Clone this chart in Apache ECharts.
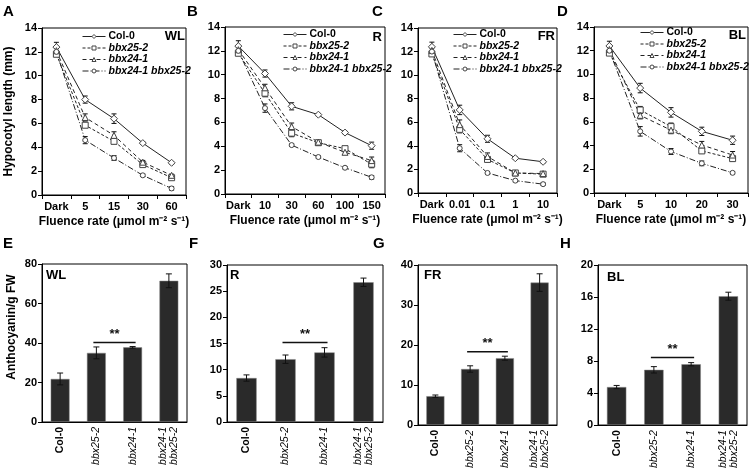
<!DOCTYPE html>
<html>
<head>
<meta charset="utf-8">
<script src="https://cdn.jsdelivr.net/npm/echarts@6/dist/echarts.min.js"></script>
<style>
  html, body { margin: 0; padding: 0; background: #fff; }
  #chart { width: 751px; height: 471px; }
</style>
</head>
<body>
<div id="chart"></div>
<script>
const genotypes = ['Col-0', 'bbx25-2', 'bbx24-1', 'bbx24-1 bbx25-2'];

// hypocotyl length (mm), one array per genotype, panel A-D
const catsWL = ['Dark', '5', '15', '30', '60'];
const wlCol0 = [12.4, 8.0, 6.4, 4.35, 2.7];
const wlBbx25 = [11.8, 5.85, 4.5, 2.55, 1.45];
const wlBbx24 = [12.1, 6.5, 5.0, 2.75, 1.65];
const wlDouble = [12.0, 4.6, 3.1, 1.65, 0.55];
const wlCol0Err = [0.4, 0.3, 0.4, 0.1, 0.1];
const wlBbx25Err = [0.2, 0.2, 0.2, 0.15, 0.15];
const wlBbx24Err = [0.3, 0.3, 0.3, 0.15, 0.1];
const wlDoubleErr = [0.3, 0.3, 0.2, 0.1, 0.15];

const catsR = ['Dark', '10', '30', '60', '100', '150'];
const rCol0 = [12.4, 10.1, 7.35, 6.65, 5.15, 4.05];
const rBbx25 = [11.8, 8.45, 5.1, 4.3, 3.8, 2.5];
const rBbx24 = [12.1, 8.9, 5.65, 4.35, 3.5, 2.8];
const rDouble = [12.0, 7.2, 4.1, 3.1, 2.2, 1.4];
const rCol0Err = [0.45, 0.3, 0.3, 0.1, 0.1, 0.3];
const rBbx25Err = [0.2, 0.3, 0.3, 0.15, 0.15, 0.3];
const rBbx24Err = [0.3, 0.3, 0.3, 0.15, 0.2, 0.3];
const rDoubleErr = [0.3, 0.35, 0.1, 0.1, 0.1, 0.15];

const catsFR = ['Dark', '0.01', '0.1', '1', '10'];
const frCol0 = [12.4, 7.05, 4.6, 2.95, 2.65];
const frBbx25 = [11.8, 5.4, 2.85, 1.7, 1.6];
const frBbx24 = [12.1, 5.8, 3.1, 1.7, 1.65];
const frDouble = [12.0, 3.8, 1.7, 1.05, 0.75];
const frCol0Err = [0.4, 0.4, 0.3, 0.1, 0.1];
const frBbx25Err = [0.2, 0.3, 0.2, 0.1, 0.15];
const frBbx24Err = [0.3, 0.4, 0.3, 0.15, 0.15];
const frDoubleErr = [0.3, 0.3, 0.1, 0.1, 0.1];

const catsBL = ['Dark', '5', '10', '20', '30'];
const blCol0 = [12.4, 8.85, 6.8, 5.2, 4.45];
const blBbx25 = [11.8, 7.0, 5.6, 3.55, 2.9];
const blBbx24 = [12.1, 6.55, 5.3, 4.05, 3.2];
const blDouble = [12.0, 5.2, 3.5, 2.5, 1.7];
const blCol0Err = [0.4, 0.4, 0.4, 0.35, 0.35];
const blBbx25Err = [0.2, 0.3, 0.3, 0.2, 0.2];
const blBbx24Err = [0.3, 0.3, 0.3, 0.3, 0.3];
const blDoubleErr = [0.3, 0.4, 0.25, 0.2, 0.1];

// anthocyanin / g FW, panels E-H
const anthoWL = [21.8, 35.0, 37.8, 71.5];
const anthoWLErr = [3.0, 3.0, 0.4, 3.5];
const anthoR = [8.4, 12.0, 13.3, 26.7];
const anthoRErr = [0.6, 0.8, 0.9, 0.8];
const anthoFR = [7.2, 14.0, 16.7, 35.6];
const anthoFRErr = [0.3, 0.8, 0.5, 2.2];
const anthoBL = [4.75, 6.9, 7.6, 16.1];
const anthoBLErr = [0.2, 0.4, 0.2, 0.5];
// height of the ** bracket between bbx25-2 and bbx24-1
const sigLevels = [40.2, 15.2, 18.3, 8.45];

const FONT = '"Liberation Sans", Arial, sans-serif';

const topPanels = [
  { cats: catsWL, vals: [wlCol0, wlBbx25, wlBbx24, wlDouble], errs: [wlCol0Err, wlBbx25Err, wlBbx24Err, wlDoubleErr],
    grid: { left: 42, top: 28, width: 144, height: 167 }, legend: { left: 82, top: 31 } },
  { cats: catsR, vals: [rCol0, rBbx25, rBbx24, rDouble], errs: [rCol0Err, rBbx25Err, rBbx24Err, rDoubleErr],
    grid: { left: 225, top: 27, width: 160, height: 167 }, legend: { left: 283, top: 29 } },
  { cats: catsFR, vals: [frCol0, frBbx25, frBbx24, frDouble], errs: [frCol0Err, frBbx25Err, frBbx24Err, frDoubleErr],
    grid: { left: 418, top: 28, width: 139, height: 165 }, legend: { left: 453, top: 29 } },
  { cats: catsBL, vals: [blCol0, blBbx25, blBbx24, blDouble], errs: [blCol0Err, blBbx25Err, blBbx24Err, blDoubleErr],
    grid: { left: 594, top: 27, width: 154, height: 166 }, legend: { left: 640, top: 27 } }
];

const barPanels = [
  { vals: anthoWL, errs: anthoWLErr, max: 80, interval: 20, grid: { left: 42, top: 264, width: 145, height: 158 } },
  { vals: anthoR, errs: anthoRErr, max: 30, interval: 5, grid: { left: 227, top: 265, width: 156, height: 157 } },
  { vals: anthoFR, errs: anthoFRErr, max: 40, interval: 10, grid: { left: 418, top: 265, width: 139, height: 160 } },
  { vals: anthoBL, errs: anthoBLErr, max: 20, interval: 4, grid: { left: 598, top: 265, width: 149, height: 163 } }
];

const symbols = ['diamond', 'rect', 'triangle', 'circle'];
const symbolSizes = [7, 6, 6, 5];
const dashes = ['solid', [3, 2], [4, 3], [6, 2, 1, 2]];

function errRender(capW) {
  return function (params, api) {
    const x = api.value(0), v = api.value(1), e = api.value(2);
    const hi = api.coord([x, v + e]);
    const lo = api.coord([x, v - e]);
    const cx = hi[0];
    const style = { stroke: '#111', lineWidth: 1 };
    return {
      type: 'group',
      children: [
        { type: 'line', shape: { x1: cx, y1: hi[1], x2: cx, y2: lo[1] }, style },
        { type: 'line', shape: { x1: cx - capW, y1: hi[1], x2: cx + capW, y2: hi[1] }, style },
        { type: 'line', shape: { x1: cx - capW, y1: lo[1], x2: cx + capW, y2: lo[1] }, style }
      ]
    };
  };
}

function sigRender(params, api) {
  const a = api.coord([api.value(0), api.value(2)]);
  const b = api.coord([api.value(1), api.value(2)]);
  return {
    type: 'group',
    children: [
      { type: 'line', shape: { x1: a[0] - 3, y1: a[1], x2: b[0] + 3, y2: b[1] }, style: { stroke: '#111', lineWidth: 1.5 } },
      { type: 'text', x: (a[0] + b[0]) / 2, y: a[1] - 2,
        style: { text: '**', font: 'bold 13px ' + FONT, fill: '#111', align: 'center', verticalAlign: 'bottom' } }
    ]
  };
}

const grids = [], xAxes = [], yAxes = [], series = [], legends = [];
const axisLineStyle = { lineStyle: { color: '#000', width: 1 } };
const tickLabel = { fontSize: 11, fontWeight: 'bold', color: '#000', fontFamily: FONT };

topPanels.forEach((p, gi) => {
  grids.push(Object.assign({ show: true, borderColor: '#000', borderWidth: 1 }, p.grid));
  xAxes.push({
    type: 'category', gridIndex: gi, data: p.cats, boundaryGap: true,
    axisLine: axisLineStyle, axisTick: { show: true, interval: 0, length: 4, lineStyle: { color: '#000' } },
    axisLabel: Object.assign({ margin: 6, interval: 0 }, tickLabel),
    name: 'Fluence rate (\u03bcmol m\u207b\u00b2 s\u207b\u00b9)', nameLocation: 'middle', nameGap: 21,
    nameTextStyle: { fontSize: 12, fontWeight: 'bold', color: '#000', fontFamily: FONT }
  });
  yAxes.push({
    type: 'value', gridIndex: gi, min: 0, max: 14, interval: 2,
    axisLine: Object.assign({ show: true }, axisLineStyle),
    axisTick: { show: true, length: 4, lineStyle: { color: '#000' } },
    splitLine: { show: false },
    axisLabel: Object.assign({ margin: 5 }, tickLabel),
    name: gi === 0 ? 'Hypocotyl length (mm)' : '', nameLocation: 'middle', nameGap: 27,
    nameTextStyle: { fontSize: 12, fontWeight: 'bold', color: '#000', fontFamily: FONT }
  });
  p.vals.forEach((vals, k) => {
    series.push({
      type: 'line', name: genotypes[k], xAxisIndex: gi, yAxisIndex: gi, data: vals,
      symbol: symbols[k], symbolSize: symbolSizes[k], showAllSymbol: true, z: 3,
      lineStyle: { color: '#222', width: 1, type: dashes[k] },
      itemStyle: { color: '#fff', borderColor: '#444', borderWidth: 1 },
      emphasis: { disabled: true }
    });
    series.push({
      type: 'custom', name: 'err' + gi + '_' + k, xAxisIndex: gi, yAxisIndex: gi, z: 2,
      renderItem: errRender(2.5), data: vals.map((v, i) => [i, v, p.errs[k][i]]),
      encode: { x: 0, y: 1 }, silent: true
    });
  });
  legends.push({
    data: genotypes, orient: 'vertical', left: p.legend.left, top: p.legend.top, padding: 0,
    itemWidth: 23, itemHeight: 5, itemGap: 0.5, selectedMode: false,
    lineStyle: { width: 1 }, itemStyle: { borderWidth: 1 },
    textStyle: { fontSize: 10.5, fontWeight: 'bold', color: '#000', fontFamily: FONT, padding: [0, 0, 0, -2],
      rich: { n: { fontSize: 10.5, fontWeight: 'bold', fontFamily: FONT, lineHeight: 11 },
              i: { fontSize: 10.5, fontWeight: 'bold', fontStyle: 'italic', fontFamily: FONT, lineHeight: 11 } } },
    formatter: name => name === 'Col-0' ? '{n|' + name + '}' : '{i|' + name + '}'
  });
});

barPanels.forEach((p, j) => {
  const gi = j + 4;
  grids.push(Object.assign({ show: true, borderColor: '#000', borderWidth: 1 }, p.grid));
  xAxes.push({
    type: 'category', gridIndex: gi, data: genotypes,
    axisLine: axisLineStyle, axisTick: { show: false },
    axisLabel: {
      rotate: 90, margin: 5, interval: 0, fontFamily: FONT,
      formatter: v => v === 'Col-0' ? '{n|Col-0}' : v.split(' ').map(s => '{i|' + s + '}').join('\n'),
      rich: { n: { fontSize: 10.5, fontWeight: 'bold', color: '#000', fontFamily: FONT, lineHeight: 11 },
              i: { fontSize: 10.5, fontStyle: 'italic', color: '#000', fontFamily: FONT, lineHeight: 11 } }
    }
  });
  yAxes.push({
    type: 'value', gridIndex: gi, min: 0, max: p.max, interval: p.interval,
    axisLine: Object.assign({ show: true }, axisLineStyle),
    axisTick: { show: true, length: 4, lineStyle: { color: '#000' } },
    splitLine: { show: false },
    axisLabel: Object.assign({ margin: 5 }, tickLabel)
  });
  series.push({
    type: 'bar', name: 'bar' + j, xAxisIndex: gi, yAxisIndex: gi, data: p.vals, barWidth: '52%',
    itemStyle: { color: '#2a2a2a', borderColor: '#888', borderWidth: 0.5 }, emphasis: { disabled: true }
  });
  series.push({
    type: 'custom', name: 'barErr' + j, xAxisIndex: gi, yAxisIndex: gi, z: 5,
    renderItem: errRender(3), data: p.vals.map((v, i) => [i, v, p.errs[i]]),
    encode: { x: 0, y: 1 }, silent: true
  });
  series.push({
    type: 'custom', name: 'sig' + j, xAxisIndex: gi, yAxisIndex: gi, z: 5,
    renderItem: sigRender, data: [[1, 2, sigLevels[j]]], encode: { x: 0, y: 2 }, silent: true
  });
});

const letters = [['A', 3, 4], ['B', 187, 4], ['C', 372, 4], ['D', 557, 4],
                 ['E', 3, 236], ['F', 189, 236], ['G', 373, 236], ['H', 560, 236]];
const lights = [['WL', 185, 30, 'right'], ['R', 382, 31, 'right'], ['FR', 555, 30, 'right'], ['BL', 746, 29, 'right'],
                ['WL', 46, 269, 'left'], ['R', 230, 269, 'left'], ['FR', 424, 269, 'left'], ['BL', 607, 271, 'left']];

const graphics = [];
letters.forEach(([t, x, y]) => graphics.push({
  type: 'text', left: x, top: y,
  style: { text: t, font: 'bold 15px ' + FONT, fill: '#000' }
}));
lights.forEach(([t, x, y, al]) => graphics.push({
  type: 'text', x: x, y: y,
  style: { text: t, font: 'bold 13px ' + FONT, fill: '#000', align: al, verticalAlign: 'top' }
}));
graphics.push({
  type: 'text', x: 12, y: 327, rotation: Math.PI / 2,
  style: { text: 'Anthocyanin/g FW', font: 'bold 12px ' + FONT, fill: '#000', align: 'center', verticalAlign: 'middle' }
});

const chart = echarts.init(document.getElementById('chart'), null, { renderer: 'canvas' });
chart.setOption({
  animation: false,
  backgroundColor: '#fff',
  grid: grids,
  xAxis: xAxes,
  yAxis: yAxes,
  legend: legends,
  series: series,
  graphic: graphics
});
</script>
</body>
</html>
